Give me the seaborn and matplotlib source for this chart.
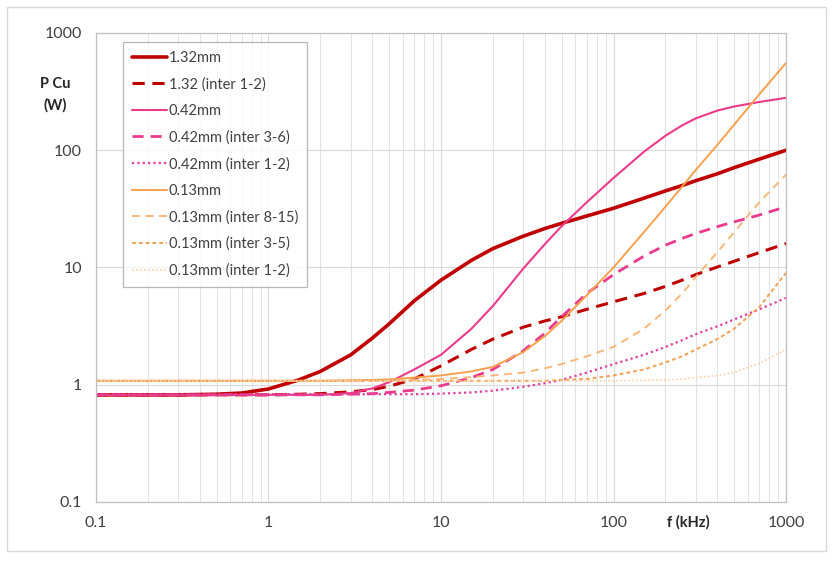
import matplotlib
matplotlib.use("Agg")
import matplotlib.pyplot as plt
import matplotlib.ticker as mticker
from matplotlib.patches import Rectangle
import seaborn as sns

# frequency grid (kHz)
freq_khz = [0.1, 0.15, 0.2, 0.3, 0.5, 0.7, 1, 1.5, 2, 3, 4, 5, 7, 10, 15, 20,
            30, 40, 50, 70, 100, 150, 200, 250, 300, 400, 500, 700, 1000]

# copper losses P Cu (W)
p_132 = [0.82, 0.82, 0.82, 0.82, 0.83, 0.85, 0.92, 1.1, 1.3, 1.8, 2.5, 3.3,
         5.2, 7.8, 11.5, 14.5, 18.5, 21.5, 23.8, 27.5, 32, 39, 45, 50, 55, 63,
         71, 84, 100]
p_132_i12 = [0.82, 0.82, 0.82, 0.82, 0.82, 0.82, 0.82, 0.83, 0.84, 0.87, 0.91,
             0.97, 1.12, 1.45, 2.0, 2.45, 3.1, 3.5, 3.8, 4.4, 5.1, 6.0, 6.9,
             7.8, 8.7, 10.1, 11.3, 13.4, 16]
p_042 = [0.82, 0.82, 0.82, 0.82, 0.82, 0.82, 0.82, 0.82, 0.82, 0.85, 0.93,
         1.05, 1.35, 1.8, 3.0, 4.7, 9.8, 15.8, 22.5, 36, 58, 97, 133, 163, 187,
         218, 236, 258, 280]
p_042_i36 = [0.82, 0.82, 0.82, 0.82, 0.82, 0.82, 0.82, 0.82, 0.82, 0.83, 0.84,
             0.86, 0.9, 0.98, 1.15, 1.35, 1.95, 2.75, 3.8, 6.0, 8.7, 12.5,
             15.5, 17.7, 19.5, 22.3, 24.5, 28, 33]
p_042_i12 = [0.83, 0.83, 0.83, 0.83, 0.83, 0.83, 0.83, 0.83, 0.83, 0.83, 0.83,
             0.83, 0.83, 0.84, 0.86, 0.89, 0.96, 1.03, 1.1, 1.27, 1.5, 1.8,
             2.1, 2.4, 2.7, 3.15, 3.6, 4.4, 5.5]
p_013 = [1.08, 1.08, 1.08, 1.08, 1.08, 1.08, 1.08, 1.08, 1.08, 1.09, 1.1,
         1.11, 1.15, 1.2, 1.3, 1.42, 1.9, 2.6, 3.5, 5.8, 10, 20, 33, 49, 68,
         111, 165, 300, 555]
p_013_i815 = [1.08, 1.08, 1.08, 1.08, 1.08, 1.08, 1.08, 1.08, 1.08, 1.08,
              1.085, 1.09, 1.1, 1.12, 1.16, 1.2, 1.27, 1.38, 1.5, 1.75, 2.1,
              3.0, 4.3, 6.0, 8.3, 13.5, 20, 36, 62]
p_013_i35 = [1.08, 1.08, 1.08, 1.08, 1.08, 1.08, 1.08, 1.08, 1.08, 1.08, 1.08,
             1.08, 1.08, 1.08, 1.08, 1.08, 1.08, 1.08, 1.1, 1.12, 1.2, 1.35,
             1.55, 1.75, 2.0, 2.45, 3.0, 4.6, 9.0]
p_013_i12 = [1.08, 1.08, 1.08, 1.08, 1.08, 1.08, 1.08, 1.08, 1.08, 1.08, 1.08,
             1.08, 1.08, 1.08, 1.08, 1.08, 1.08, 1.08, 1.08, 1.08, 1.08, 1.09,
             1.1, 1.12, 1.15, 1.2, 1.27, 1.52, 2.0]

series_labels = ["1.32mm", "1.32 (inter 1-2)", "0.42mm", "0.42mm (inter 3-6)",
                 "0.42mm (inter 1-2)", "0.13mm", "0.13mm (inter 8-15)",
                 "0.13mm (inter 3-5)", "0.13mm (inter 1-2)"]
series_values = [p_132, p_132_i12, p_042, p_042_i36, p_042_i12,
                 p_013, p_013_i815, p_013_i35, p_013_i12]

# colour, width, dash pattern per series
styles = [
    ("#C00000", 2.6, None),
    ("#C00000", 2.2, (4, 2.5)),
    ("#EC3A8A", 1.5, None),
    ("#EC3A8A", 2.0, (4, 2.5)),
    ("#E13FA0", 1.6, (1, 1.4)),
    ("#F7A04E", 1.4, None),
    ("#F9B777", 1.4, (4, 3)),
    ("#F4A155", 1.4, (2, 1.5)),
    ("#FAD0A8", 1.2, (1, 1.4)),
]

sns.set_style("white")
plt.rcParams["font.family"] = ["Lato", "DejaVu Sans"]

fig = plt.figure(figsize=(8.33, 5.66), dpi=100)
ax = fig.add_axes([0.1152, 0.1131, 0.8284, 0.8286])

for label, vals, (col, lw, dash) in zip(series_labels, series_values, styles):
    sns.lineplot(x=freq_khz, y=vals, ax=ax, color=col, linewidth=lw,
                 label=label, sort=False, estimator=None)
    if dash is not None:
        ax.lines[-1].set_dashes(dash)

ax.set_xscale("log")
ax.set_yscale("log")
ax.set_xlim(0.1, 1000)
ax.set_ylim(0.1, 1000)

ticks = [0.1, 1, 10, 100, 1000]
tick_labels = ["0.1", "1", "10", "100", "1000"]
ax.set_xticks(ticks)
ax.set_xticklabels(tick_labels)
ax.set_yticks(ticks)
ax.set_yticklabels(tick_labels)
ax.xaxis.set_minor_locator(mticker.LogLocator(base=10, subs=range(2, 10)))
ax.xaxis.set_minor_formatter(mticker.NullFormatter())
ax.yaxis.set_minor_locator(mticker.NullLocator())

ax.grid(True, which="major", axis="both", color="#D9D9D9", linewidth=0.8)
ax.grid(True, which="minor", axis="x", color="#E3E3E3", linewidth=0.8)
ax.set_axisbelow(True)

for side in ["left", "bottom", "top", "right"]:
    ax.spines[side].set_color("#BFBFBF")
    ax.spines[side].set_linewidth(0.9)

ax.tick_params(axis="both", which="major", length=4, color="#BFBFBF",
               labelsize=11.5, labelcolor="#404040", pad=6)
ax.tick_params(axis="x", which="minor", length=0)

ax.set_xlabel("")
ax.set_ylabel("")
fig.text(55 / 833, 1 - 95 / 566, "P Cu\n(W)", ha="center", va="center",
         fontsize=10.5, fontweight="bold", color="#262626", linespacing=1.6)
fig.text(688 / 833, 1 - 522 / 566, "f (kHz)", ha="center", va="center",
         fontsize=10.5, fontweight="bold", color="#262626")

leg = ax.legend(loc="upper left", bbox_to_anchor=(0.039, 0.981),
                borderaxespad=0, fancybox=False, frameon=True,
                handlelength=2.4, handletextpad=0.15, labelspacing=0.85,
                fontsize=10.5, borderpad=0.6)
leg.get_frame().set_edgecolor("#A6A6A6")
leg.get_frame().set_linewidth(0.9)
for txt in leg.get_texts():
    txt.set_color("#404040")

# outer chart border
fig.patches.append(Rectangle((7 / 833, 15 / 566), 819 / 833, 544 / 566,
                             transform=fig.transFigure, fill=False,
                             edgecolor="#D9D9D9", linewidth=1))

fig.savefig("out.png", dpi=100)
